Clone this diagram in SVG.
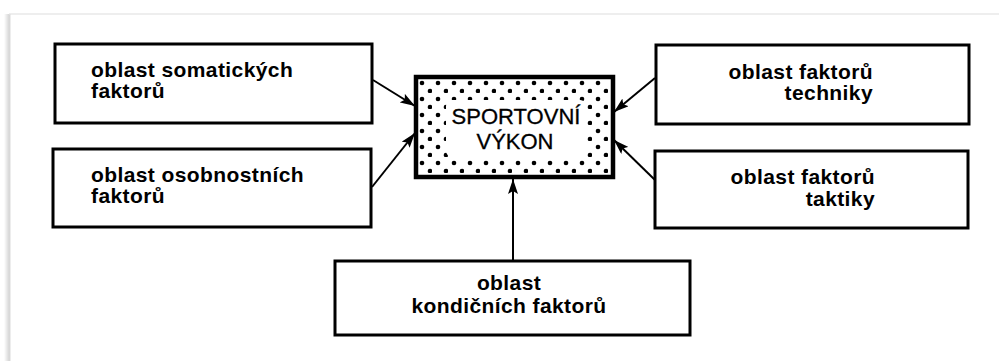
<svg xmlns="http://www.w3.org/2000/svg" width="999" height="361" viewBox="0 0 999 361">
  <defs>
    <style>
      .box { fill: #fff; stroke: #000; stroke-width: 3; }
      .core { fill: url(#dots); stroke: #000; stroke-width: 4.5; }
      .lbl { font-family: "Liberation Sans", Arial, sans-serif; font-weight: bold; font-size: 21px; letter-spacing: 0.4px; fill: #000; }
      .core-lbl { font-family: "Liberation Sans", Arial, sans-serif; font-size: 22px; fill: #000; stroke: #000; stroke-width: 0.3; text-anchor: middle; }
      .link { stroke: #000; stroke-width: 2; fill: none; marker-end: url(#head); }
    </style>
    <pattern id="dots" x="416" y="77" width="16" height="16" patternUnits="userSpaceOnUse">
      <rect width="16" height="16" fill="#fff"/>
      <circle cx="6" cy="6" r="2.3" fill="#000"/>
      <circle cx="14" cy="14" r="2.3" fill="#000"/>
    </pattern>
    <marker id="head" markerWidth="16" markerHeight="10" refX="15" refY="5" orient="auto" markerUnits="userSpaceOnUse">
      <path d="M0,0 L15,5 L0,10 L3,5 Z" fill="#000"/>
    </marker>
    <linearGradient id="edge" x1="0" y1="0" x2="1" y2="0">
      <stop offset="0" stop-color="#fff"/>
      <stop offset="1" stop-color="#cfcfcf"/>
    </linearGradient>
  </defs>

  <rect width="999" height="361" fill="#fff"/>

  <!-- page frame -->
  <g id="frame">
    <rect x="4" y="14" width="6" height="347" fill="url(#edge)"/>
    <line x1="9" y1="14" x2="999" y2="14" stroke="#e8e8e8" stroke-width="1.5"/>
    <line x1="10" y1="14" x2="10" y2="361" stroke="#dcdcdc" stroke-width="1"/>
  </g>

  <g id="connectors">
    <line class="link" x1="373" y1="80" x2="415" y2="106"/>
    <line class="link" x1="372" y1="187" x2="415" y2="133"/>
    <line class="link" x1="655" y1="78" x2="614" y2="112"/>
    <line class="link" x1="655" y1="180" x2="614" y2="140"/>
    <line class="link" x1="513" y1="260" x2="513" y2="179"/>
  </g>

  <g id="somatic">
    <rect class="box" x="55" y="44" width="317" height="79"/>
    <text class="lbl" x="91" y="77">oblast somatických</text>
    <text class="lbl" x="91" y="98">faktorů</text>
  </g>

  <g id="personality">
    <rect class="box" x="53" y="149" width="318" height="78"/>
    <text class="lbl" x="91" y="182">oblast osobnostních</text>
    <text class="lbl" x="91" y="203">faktorů</text>
  </g>

  <g id="technique">
    <rect class="box" x="656" y="45" width="313" height="79"/>
    <text class="lbl" x="873" y="79" text-anchor="end">oblast faktorů</text>
    <text class="lbl" x="873" y="100" text-anchor="end">techniky</text>
  </g>

  <g id="tactics">
    <rect class="box" x="655" y="151" width="313" height="77"/>
    <text class="lbl" x="875" y="184" text-anchor="end">oblast faktorů</text>
    <text class="lbl" x="875" y="206" text-anchor="end">taktiky</text>
  </g>

  <g id="condition">
    <rect class="box" x="335" y="261" width="355" height="74"/>
    <text class="lbl" x="509" y="290" text-anchor="middle">oblast</text>
    <text class="lbl" x="509" y="313" text-anchor="middle">kondičních faktorů</text>
  </g>

  <g id="performance">
    <rect class="core" x="416" y="77" width="197" height="100"/>
    <rect x="446" y="100" width="140" height="57" rx="6" fill="#fff"/>
    <text class="core-lbl" x="516" y="124">SPORTOVNÍ</text>
    <text class="core-lbl" x="515" y="149">VÝKON</text>
  </g>
</svg>
